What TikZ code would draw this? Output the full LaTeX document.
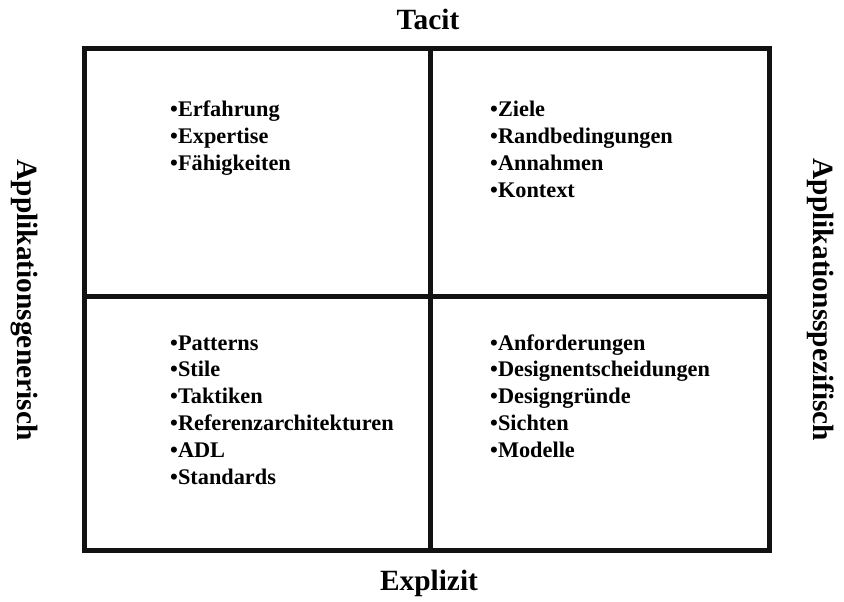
\documentclass[tikz,border=0pt]{standalone}
\usepackage{fontspec}
\setmainfont{Liberation Serif}
\begin{document}
\begin{tikzpicture}[x=1bp,y=-1bp,
  gridline/.style={line width=5bp, draw=black!93},
  axislabel/.style={font=\fontsize{29.5}{33}\selectfont\bfseries, inner sep=0pt},
  itemlist/.style={font=\fontsize{22.4}{27}\selectfont\bfseries, inner sep=0pt, anchor=base west}]
  \useasboundingbox (0,0) rectangle (844,602);

  % corners and mid points of the 2x2 grid
  \coordinate (nw) at (84,49);
  \coordinate (se) at (769,550);
  \coordinate (top) at (430,49);
  \coordinate (bottom) at (430,550);
  \coordinate (left) at (84,296);
  \coordinate (right) at (769,296);

  \draw[gridline] (nw) rectangle (se);
  \draw[gridline] (top) -- (bottom);
  \draw[gridline] (left) -- (right);

  % axis labels
  \node[axislabel] (tacit) at (428,19) {Tacit};
  \node[axislabel] (explizit) at (429,583) {Explizit};
  \node[axislabel, rotate=-90] (generisch) at (24,300) {Applikationsgenerisch};
  \node[axislabel, rotate=-90] (spezifisch) at (821,300) {Applikationsspezifisch};

  % quadrant contents
  \node[itemlist] (q1) at (170,117) {\vtop{\hbox{•Erfahrung}\hbox{•Expertise}\hbox{•Fähigkeiten}}};
  \node[itemlist] (q2) at (490,117) {\vtop{\hbox{•Ziele}\hbox{•Randbedingungen}\hbox{•Annahmen}\hbox{•Kontext}}};
  \node[itemlist] (q3) at (170,350) {\vtop{\hbox{•Patterns}\hbox{•Stile}\hbox{•Taktiken}\hbox{•Referenzarchitekturen}\hbox{•ADL}\hbox{•Standards}}};
  \node[itemlist] (q4) at (490,350) {\vtop{\hbox{•Anforderungen}\hbox{•Designentscheidungen}\hbox{•Designgründe}\hbox{•Sichten}\hbox{•Modelle}}};
\end{tikzpicture}
\end{document}
